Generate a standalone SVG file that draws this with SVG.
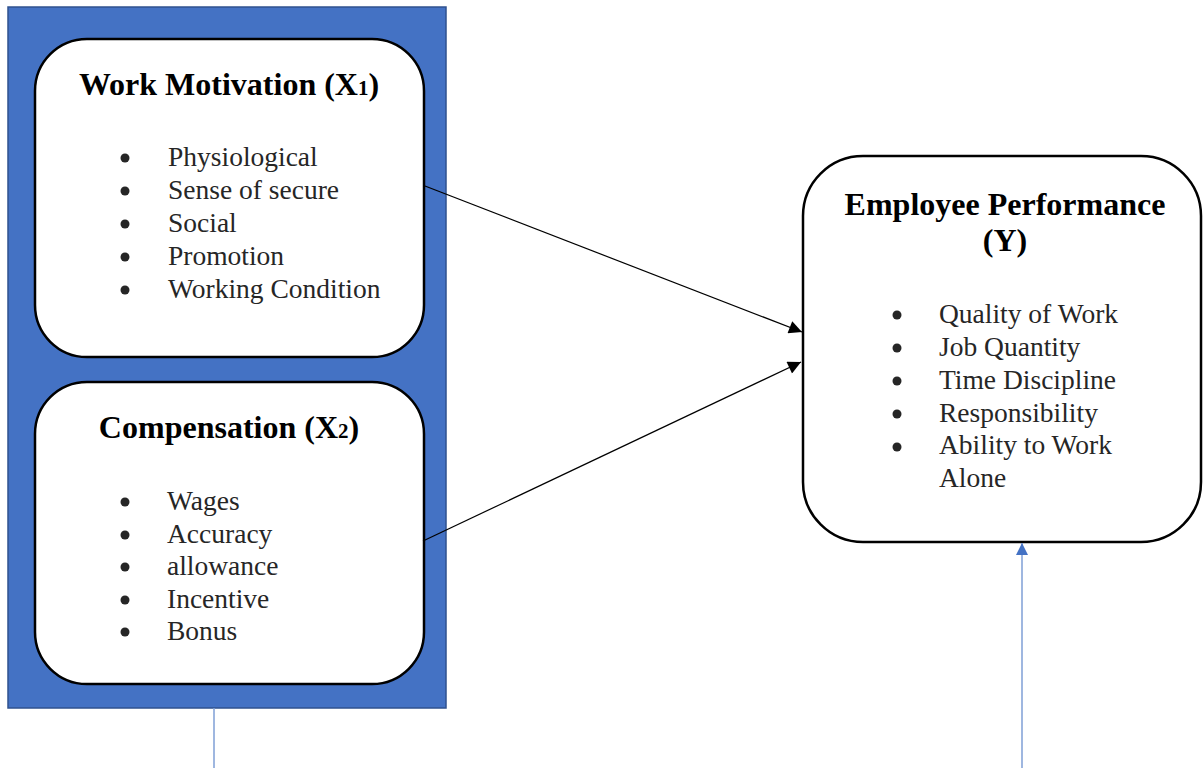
<svg xmlns="http://www.w3.org/2000/svg" width="1203" height="768" viewBox="0 0 1203 768">
  <style>
    .panel { fill: #4472C4; stroke: #2F528F; stroke-width: 1.5; }
    .box { fill: #FFFFFF; stroke: #000000; stroke-width: 2.5; }
    .title { font-family: "Liberation Serif", "Times New Roman", serif; font-weight: bold; font-size: 32px; fill: #000000; text-anchor: middle; }
    .sub { font-size: 21px; }
    .item { font-family: "Liberation Serif", "Times New Roman", serif; font-size: 27.5px; fill: #262626; }
    .dot { fill: #262626; }
    .link { stroke: #000000; stroke-width: 1.2; fill: none; marker-end: url(#arrow); }
    .blue { stroke: #7F9FD6; stroke-width: 1.5; fill: none; }
  </style>
  <defs>
    <marker id="arrow" viewBox="0 0 10 10" refX="10" refY="5" markerWidth="15" markerHeight="13" markerUnits="userSpaceOnUse" orient="auto">
      <path d="M0,0 L10,5 L0,10 z" fill="#000000"/>
    </marker>
    <marker id="arrowBlue" viewBox="0 0 10 10" refX="10" refY="5" markerWidth="14" markerHeight="12" markerUnits="userSpaceOnUse" orient="auto">
      <path d="M0,0 L10,5 L0,10 z" fill="#4472C4"/>
    </marker>
  </defs>

  <!-- blue container for the independent variables -->
  <rect class="panel" x="8" y="7" width="438" height="701"/>

  <g id="work-motivation">
    <rect class="box" x="35" y="39" width="389" height="318" rx="52" ry="52"/>
    <text class="title" x="229" y="95">Work Motivation (X<tspan class="sub">1</tspan>)</text>
    <circle class="dot" cx="125" cy="158" r="4.5"/>
    <circle class="dot" cx="125" cy="191" r="4.5"/>
    <circle class="dot" cx="125" cy="224" r="4.5"/>
    <circle class="dot" cx="125" cy="257" r="4.5"/>
    <circle class="dot" cx="125" cy="290" r="4.5"/>
    <text class="item" x="168" y="166">Physiological</text>
    <text class="item" x="168" y="199">Sense of secure</text>
    <text class="item" x="168" y="232">Social</text>
    <text class="item" x="168" y="265">Promotion</text>
    <text class="item" x="168" y="298">Working Condition</text>
  </g>

  <g id="compensation">
    <rect class="box" x="35" y="382" width="389" height="302" rx="52" ry="52"/>
    <text class="title" x="229" y="438">Compensation (X<tspan class="sub">2</tspan>)</text>
    <circle class="dot" cx="125" cy="502" r="4.5"/>
    <circle class="dot" cx="125" cy="535" r="4.5"/>
    <circle class="dot" cx="125" cy="567" r="4.5"/>
    <circle class="dot" cx="125" cy="600" r="4.5"/>
    <circle class="dot" cx="125" cy="632" r="4.5"/>
    <text class="item" x="167" y="510">Wages</text>
    <text class="item" x="167" y="543">Accuracy</text>
    <text class="item" x="167" y="575">allowance</text>
    <text class="item" x="167" y="608">Incentive</text>
    <text class="item" x="167" y="640">Bonus</text>
  </g>

  <g id="employee-performance">
    <rect class="box" x="803" y="156" width="398" height="386" rx="60" ry="60"/>
    <text class="title" x="1005" y="215">Employee Performance</text>
    <text class="title" x="1005" y="251">(Y)</text>
    <circle class="dot" cx="897" cy="315" r="4.5"/>
    <circle class="dot" cx="897" cy="348" r="4.5"/>
    <circle class="dot" cx="897" cy="381" r="4.5"/>
    <circle class="dot" cx="897" cy="414" r="4.5"/>
    <circle class="dot" cx="897" cy="447" r="4.5"/>
    <text class="item" x="939" y="323">Quality of Work</text>
    <text class="item" x="939" y="356">Job Quantity</text>
    <text class="item" x="939" y="389">Time Discipline</text>
    <text class="item" x="939" y="422">Responsibility</text>
    <text class="item" x="939" y="454">Ability to Work</text>
    <text class="item" x="939" y="487">Alone</text>
  </g>

  <g id="connectors">
    <line class="link" x1="425" y1="186" x2="802" y2="332"/>
    <line class="link" x1="423" y1="541" x2="801" y2="362"/>
    <line class="blue" x1="214" y1="708" x2="214" y2="768"/>
    <line class="blue" x1="1022" y1="768" x2="1022" y2="543" marker-end="url(#arrowBlue)"/>
  </g>
</svg>
